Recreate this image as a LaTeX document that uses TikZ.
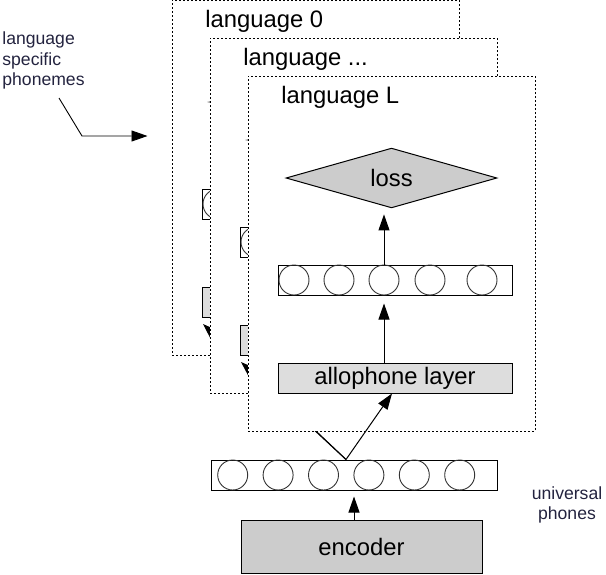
\documentclass[tikz,border=0pt]{standalone}
\usepackage{fontspec}
\setmainfont{Liberation Sans}
\usetikzlibrary{shapes.geometric,arrows.meta}
\definecolor{boxgray}{HTML}{CCCCCC}
\definecolor{layergray}{HTML}{DDDDDD}
\definecolor{notecol}{HTML}{23233F}
\tikzset{
	frame/.style = {draw, fill = white, line width = 0.5pt, dash pattern = on 1pt off 1pt, minimum width = 143.5pt, minimum height = 177.5pt, inner sep = 0pt},
	layer/.style = {draw, line width = 0.5pt, minimum width = 117pt, minimum height = 15pt, inner sep = 0pt},
	unit/.style = {draw = black!80, circle, line width = 0.45pt, minimum size = 15pt, inner sep = 0pt},
	arr/.style = {-{Triangle[length = 8pt, width = 5.5pt]}, line width = 0.5pt},
	big/.style = {font = \fontsize{11.9}{14}\selectfont},
	note/.style = {font = \fontsize{8.8}{10.3}\selectfont, text = notecol, inner sep = 0pt},
}
\begin{document}
\begin{tikzpicture}[x = 0.5pt, y = -0.5pt]
		\useasboundingbox (0, 0) rectangle (606, 574);
		\node[layer, fill = boxgray, minimum width = 120.5pt, minimum height = 26.5pt, big] (enc) at (361.5, 546.5) {encoder};
		\node[layer, minimum width = 143pt] (row) at (354, 475) {};
		\foreach \i in {0, 1, 2, 3, 4, 5}
			\node[unit] (v\i) at (232.7 + 45.4*\i, 475) {};
		\coordinate (up) at ([xshift = -4pt]row.north);
		\coordinate (tip0) at (203, 324);
		\coordinate (tip1) at (241, 362);
		\draw[arr, shorten >= 3pt] (enc.north -| row.south) -- (row.south);
		\foreach \k/\lab in {0/0, 1/{...}, 2/L} {
			\begin{scope}[shift = {({-38*(2-\k)}, {-38*(2-\k)})}]
				\node[frame] (fr\k) at (391.5, 253.5) {};
				\node[big, anchor = base west, inner sep = 0pt] (title\k) at (281, 103) {language \lab};
				\node[diamond, draw, fill = boxgray, line width = 0.5pt, minimum width = 105.5pt, minimum height = 19pt, inner sep = 0pt, big] (loss\k) at (391.5, 178) {\ifnum\k=2 loss\fi};
				\node[layer] (out\k) at (395, 280) {};
				\foreach \cx [count = \j] in {294, 339, 384, 430, 482}
					\node[unit] (u\k\j) at (\cx, 280) {};
				\node[layer, fill = layergray, big] (allo\k) at (395, 378) {\ifnum\k=2 allophone layer\fi};
				\draw[arr, shorten >= 3pt] (out\k.north -| u\k3) -- (loss\k.south -| u\k3);
				\draw[arr, shorten >= 4pt] (allo\k.north -| u\k3) -- (out\k.south -| u\k3);
			\end{scope}
			\ifnum\k<2
				\draw[arr] (up) -- (tip\k);
			\else
				\draw[arr] (up) -- ([xshift = -1.5pt]allo\k.south);
			\fi
		}
		\node[note, anchor = north west, align = left] (phon) at (2, 31.5) {language\\specific\\phonemes};
		\node[note, anchor = north, align = center] (univ) at (567, 486) {universal\\phones};
		\coordinate (from) at (59, 98);
		\coordinate (bend) at (82, 136);
		\draw[arr, line width = 0.45pt, shorten >= 12pt] (from) -- (bend) -- (bend -| fr0.west);
	\end{tikzpicture}
\end{document}
